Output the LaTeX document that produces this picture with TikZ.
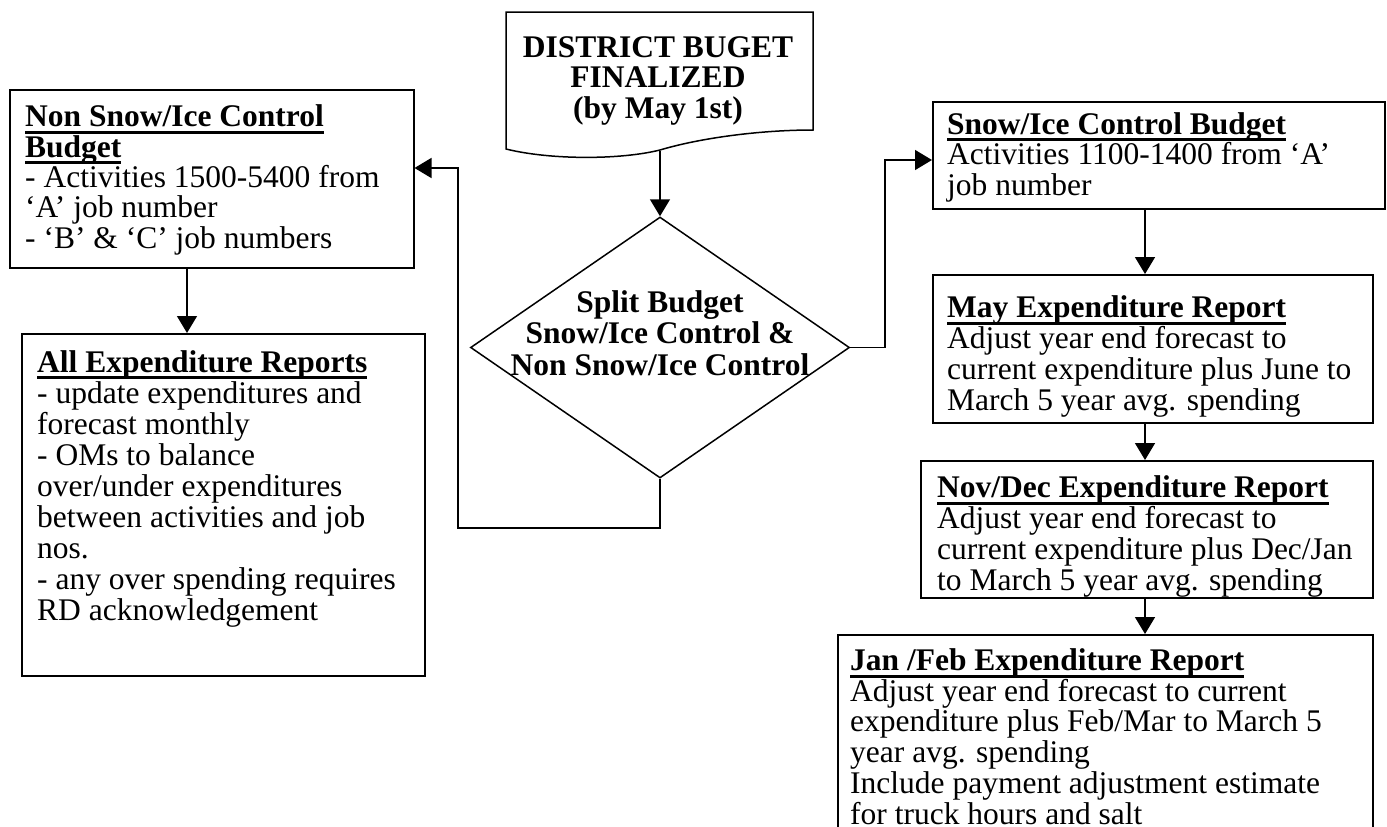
\documentclass[tikz,border=0pt]{standalone}
\usepackage{fontspec}
\setmainfont{Liberation Serif}
\usetikzlibrary{arrows.meta,shapes.geometric}
\newsavebox\hdbox
\newcommand\hd[1]{\sbox\hdbox{\bfseries #1}\usebox\hdbox\llap{\rule[-7pt]{\wd\hdbox}{3pt}}}
\tikzset{
  box/.style={draw, line width=1.5pt, rectangle, anchor=north west, inner sep=0pt},
  txt/.style={anchor=base west, align=left, inner sep=0pt, font=\fontsize{31.5}{30.3}\selectfont},
  txtw/.style={txt, font=\fontsize{31.5}{31}\selectfont},
  txtb/.style={txt, font=\fontsize{31.5}{30.7}\selectfont},
  ctr/.style={anchor=base, align=center, inner sep=0pt, font=\fontsize{31.5}{30.5}\selectfont\bfseries},
  arr/.style={line width=1.5pt, -{Triangle[width=20pt,length=17pt]}},
  ln/.style={line width=1.5pt}
}
\begin{document}
\begin{tikzpicture}[x=1pt,y=-1pt]
\useasboundingbox (0,0) rectangle (1387,827);
\clip (0,0) rectangle (1387,827);
% document shape
\draw[ln] (506,12) -- (813,12) -- (813,130) .. controls (760,130) and (700,138) .. (660,150) .. controls (620,160) and (550,160) .. (506,149) -- cycle;
\node[ctr] (docT) at (658,118) {DISTRICT BUGET\\FINALIZED\\(by May 1st)};
\coordinate (docb) at (660,151);
% decision
\node[diamond, draw, ln, minimum width=379pt, minimum height=261pt, inner sep=0pt] (split) at (660,347.5) {};
\node[ctr, font=\fontsize{31.5}{31.5}\selectfont\bfseries] (splitT) at (660,375) {Split Budget\\Snow/Ice Control \&\\Non Snow/Ice Control};
% left boxes
\node[box, minimum width=404pt, minimum height=178pt] (nonsnow) at (9,89) {};
\node[txt] (nonsnowT) at (25,248) {\hd{Non Snow/Ice Control}\\\hd{Budget}\\- Activities 1500-5400 from\\‘A’ job number\\- ‘B’ \& ‘C’ job numbers};
\node[box, minimum width=403pt, minimum height=342pt] (allexp) at (21,333) {};
\node[txtw] (allexpT) at (37,620) {\hd{All Expenditure Reports}\\- update expenditures and\\forecast monthly\\- OMs to balance\\over/under expenditures\\between activities and job\\nos.\\- any over spending requires\\RD acknowledgement};
% right boxes
\node[box, minimum width=452pt, minimum height=107pt] (snow) at (932,101) {};
\node[txt] (snowT) at (947,195) {\hd{Snow/Ice Control Budget}\\Activities 1100-1400 from ‘A’\\job number};
\node[box, minimum width=440pt, minimum height=148pt] (may) at (932,274) {};
\node[txtb] (mayT) at (947,410) {\hd{May Expenditure Report}\\Adjust year end forecast to\\current expenditure plus June to\\March 5 year avg. spending};
\node[box, minimum width=452pt, minimum height=137pt] (nov) at (920,460) {};
\node[txtb] (novT) at (937,590) {\hd{Nov/Dec Expenditure Report}\\Adjust year end forecast to\\current expenditure plus Dec/Jan\\to March 5 year avg. spending};
\node[box, minimum width=535pt, minimum height=300pt] (jan) at (837,634) {};
\node[txtb] (janT) at (850,824) {\hd{Jan /Feb Expenditure Report}\\Adjust year end forecast to current\\expenditure plus Feb/Mar to March 5\\year avg. spending\\Include payment adjustment estimate\\for truck hours and salt};
% connectors
\coordinate (ax) at (187,0);
\coordinate (bx) at (1145,0);
\coordinate (r1) at (885,0);
\coordinate (ry) at (0,160);
\coordinate (ly) at (0,528);
\coordinate (lx) at (458,0);
\coordinate (ly2) at (0,168);
\draw[arr] (docb) -- (split.north);
\draw[arr] (split.east) -- (split.east -| r1) -- (r1 |- ry) -- (snow.west |- ry);
\draw[arr] (split.south) -- (split.south |- ly) -- (lx |- ly) -- (lx |- ly2) -- (nonsnow.east |- ly2);
\draw[arr] (nonsnow.south -| ax) -- (allexp.north -| ax);
\draw[arr] (snow.south -| bx) -- (may.north -| bx);
\draw[arr] (may.south -| bx) -- (nov.north -| bx);
\draw[arr] (nov.south -| bx) -- (jan.north -| bx);
\end{tikzpicture}
\end{document}
